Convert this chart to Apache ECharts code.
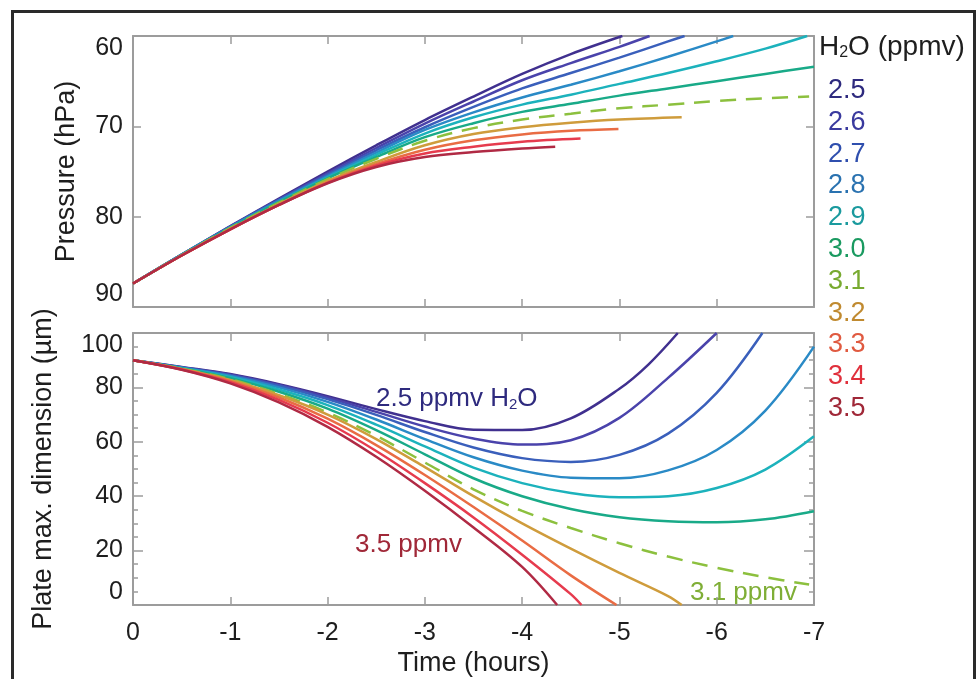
<!DOCTYPE html>
<html>
<head>
<meta charset="utf-8">
<title>Plate growth vs pressure and water vapour</title>
<script src="https://cdn.jsdelivr.net/npm/echarts@6/dist/echarts.min.js"></script>
<style>
  html, body { margin: 0; padding: 0; background: #ffffff; }
  #main { width: 976px; height: 679px; }
</style>
</head>
<body>
<div id="main"></div>
<script>
// Water vapour mixing ratios (ppmv), one trajectory each
const H2O_LEVELS = ['2.5', '2.6', '2.7', '2.8', '2.9', '3.0', '3.1', '3.2', '3.3', '3.4', '3.5'];
const LINE_COLORS = ['#40308f', '#4a43ab', '#3a5fbb', '#2a8ac6', '#1cb2bc', '#19aa88', '#8cc03e', '#cf9c3c', '#e96c44', '#e63b4e', '#b02a44'];
const LABEL_COLORS = ['#2e2a7e', '#3a3a9e', '#2f4fae', '#2a72b0', '#1a9a9e', '#1a9a60', '#78aa30', '#c08a30', '#e05a40', '#e0303c', '#a02838'];
const DASHED_LEVEL = '3.1';

// Axis ticks
const X_TICK_LABELS = ['0', '-1', '-2', '-3', '-4', '-5', '-6', '-7'];
const PRESSURE_TICKS = [60, 70, 80, 90];
const SIZE_TICKS = [0, 20, 40, 60, 80, 100];

// Pressure (hPa) along each trajectory: [time (h), pressure]
const PRESSURE_2_5 = [[0, 87.4], [-0.5, 84.2], [-1, 81.05], [-1.5, 78.0], [-2, 75.0], [-2.5, 72.1], [-3, 69.3], [-3.5, 66.7], [-4, 64.2], [-4.5, 62.0], [-5.03, 60.0]];
const PRESSURE_2_6 = [[0, 87.4], [-0.5, 84.2], [-1, 81.1], [-1.5, 78.1], [-2, 75.2], [-2.5, 72.4], [-3, 69.7], [-3.5, 67.25], [-4, 64.9], [-4.5, 63.0], [-5, 61.2], [-5.31, 60.0]];
const PRESSURE_2_7 = [[0, 87.4], [-0.5, 84.2], [-1, 81.1], [-1.5, 78.15], [-2, 75.35], [-2.5, 72.65], [-3, 70.1], [-3.5, 67.85], [-4, 65.8], [-4.5, 64.1], [-5, 62.4], [-5.5, 60.6], [-5.67, 60.0]];
const PRESSURE_2_8 = [[0, 87.4], [-0.5, 84.2], [-1, 81.15], [-1.5, 78.25], [-2, 75.5], [-2.5, 72.9], [-3, 70.4], [-3.5, 68.45], [-4, 66.8], [-4.5, 65.4], [-5, 63.9], [-5.5, 62.3], [-6, 60.6], [-6.17, 60.0]];
const PRESSURE_2_9 = [[0, 87.4], [-0.5, 84.25], [-1, 81.25], [-1.5, 78.35], [-2, 75.65], [-2.5, 73.15], [-3, 70.8], [-3.5, 69.0], [-4, 67.6], [-4.5, 66.5], [-5, 65.3], [-5.5, 64.1], [-6, 62.8], [-6.5, 61.4], [-6.93, 60.0]];
const PRESSURE_3_0 = [[0, 87.4], [-0.5, 84.25], [-1, 81.25], [-1.5, 78.4], [-2, 75.75], [-2.5, 73.4], [-3, 71.2], [-3.5, 69.65], [-4, 68.4], [-4.5, 67.5], [-5, 66.6], [-5.5, 65.8], [-6, 65.0], [-6.5, 64.2], [-7, 63.4]];
const PRESSURE_3_1 = [[0, 87.4], [-0.5, 84.25], [-1, 81.25], [-1.5, 78.45], [-2, 75.85], [-2.5, 73.6], [-3, 71.6], [-3.5, 70.2], [-4, 69.25], [-4.5, 68.6], [-5, 68.0], [-5.5, 67.6], [-6, 67.2], [-6.5, 66.9], [-6.95, 66.7]];
const PRESSURE_3_2 = [[0, 87.4], [-0.5, 84.3], [-1, 81.35], [-1.5, 78.6], [-2, 76.05], [-2.5, 73.95], [-3, 72.1], [-3.5, 70.85], [-4, 70.1], [-4.5, 69.6], [-5, 69.25], [-5.64, 69.0]];
const PRESSURE_3_3 = [[0, 87.4], [-0.5, 84.3], [-1, 81.4], [-1.5, 78.7], [-2, 76.2], [-2.5, 74.2], [-3, 72.6], [-3.5, 71.55], [-4, 70.9], [-4.5, 70.5], [-4.99, 70.3]];
const PRESSURE_3_4 = [[0, 87.4], [-0.5, 84.3], [-1, 81.4], [-1.5, 78.7], [-2, 76.25], [-2.5, 74.35], [-3, 73.0], [-3.5, 72.25], [-4, 71.7], [-4.6, 71.35]];
const PRESSURE_3_5 = [[0, 87.4], [-0.5, 84.3], [-1, 81.4], [-1.5, 78.7], [-2, 76.3], [-2.5, 74.5], [-3, 73.4], [-3.5, 72.85], [-4, 72.45], [-4.34, 72.25]];

// Plate maximum dimension (µm) along each trajectory: [time (h), size]
const SIZE_2_5 = [[0, 90], [-0.5, 87.5], [-1, 84.9], [-1.5, 81.2], [-2, 76.8], [-2.5, 72.0], [-3, 67.6], [-3.5, 64.4], [-4, 64.3], [-4.5, 68.6], [-5, 79.5], [-5.3, 88.5], [-5.6, 100]];
const SIZE_2_6 = [[0, 90], [-0.5, 87.4], [-1, 84.7], [-1.5, 80.9], [-2, 76.3], [-2.5, 71.0], [-3, 65.6], [-3.5, 61.2], [-4, 59.0], [-4.5, 60.6], [-5, 68.8], [-5.5, 83.5], [-6, 100]];
const SIZE_2_7 = [[0, 90], [-0.5, 87.3], [-1, 84.5], [-1.5, 80.6], [-2, 75.7], [-2.5, 69.9], [-3, 63.6], [-3.5, 57.9], [-4, 54.0], [-4.5, 52.6], [-5, 55.2], [-5.5, 63.0], [-6, 78.0], [-6.47, 100]];
const SIZE_2_8 = [[0, 90], [-0.5, 87.2], [-1, 84.2], [-1.5, 80.0], [-2, 74.7], [-2.5, 68.2], [-3, 61.0], [-3.5, 54.3], [-4, 49.4], [-4.5, 46.8], [-5, 46.6], [-5.5, 49.5], [-6, 57.0], [-6.5, 71.5], [-7, 95.0]];
const SIZE_2_9 = [[0, 90], [-0.5, 87.1], [-1, 83.8], [-1.5, 79.2], [-2, 73.5], [-2.5, 66.3], [-3, 58.3], [-3.5, 50.5], [-4, 44.8], [-4.5, 41.2], [-5, 39.6], [-5.5, 40.0], [-6, 43.0], [-6.5, 49.8], [-7, 62.0]];
const SIZE_3_0 = [[0, 90], [-0.5, 87.0], [-1, 83.4], [-1.5, 78.4], [-2, 72.2], [-2.5, 64.3], [-3, 55.4], [-3.5, 46.6], [-4, 40.0], [-4.5, 35.3], [-5, 32.3], [-5.5, 30.8], [-6, 30.4], [-6.5, 31.5], [-7, 34.5]];
const SIZE_3_1 = [[0, 90], [-0.5, 86.9], [-1, 83.0], [-1.5, 77.6], [-2, 70.8], [-2.5, 62.2], [-3, 52.4], [-3.5, 42.5], [-4, 34.6], [-4.5, 28.3], [-5, 22.7], [-5.5, 17.8], [-6, 13.7], [-6.5, 10.2], [-6.95, 7.5]];
const SIZE_3_2 = [[0, 90], [-0.5, 86.8], [-1, 82.7], [-1.5, 77.1], [-2, 70.0], [-2.5, 61.0], [-3, 50.7], [-3.5, 40.0], [-4, 30.0], [-4.5, 20.7], [-5, 11.8], [-5.5, 3.3], [-5.64, 0]];
const SIZE_3_3 = [[0, 90], [-0.5, 86.7], [-1, 82.3], [-1.5, 76.3], [-2, 68.5], [-2.5, 58.8], [-3, 47.8], [-3.5, 36.0], [-4, 23.7], [-4.5, 10.9], [-4.97, 0]];
const SIZE_3_4 = [[0, 90], [-0.5, 86.6], [-1, 81.9], [-1.5, 75.4], [-2, 67.0], [-2.5, 56.6], [-3, 44.8], [-3.5, 32.2], [-4, 18.5], [-4.5, 4.0], [-4.61, 0]];
const SIZE_3_5 = [[0, 90], [-0.5, 86.5], [-1, 81.5], [-1.5, 74.5], [-2, 65.5], [-2.5, 54.5], [-3, 42.0], [-3.5, 28.5], [-4, 14.0], [-4.36, 0]];

const PRESSURE_TRACKS = [PRESSURE_2_5, PRESSURE_2_6, PRESSURE_2_7, PRESSURE_2_8, PRESSURE_2_9, PRESSURE_3_0,
  PRESSURE_3_1, PRESSURE_3_2, PRESSURE_3_3, PRESSURE_3_4, PRESSURE_3_5];
const SIZE_TRACKS = [SIZE_2_5, SIZE_2_6, SIZE_2_7, SIZE_2_8, SIZE_2_9, SIZE_3_0,
  SIZE_3_1, SIZE_3_2, SIZE_3_3, SIZE_3_4, SIZE_3_5];

const FONT = '"Liberation Sans", Arial, Helvetica, sans-serif';
const TEXT_COLOR = '#1e1e1e';
const FRAME_COLOR = '#9c9c9c';

const chart = echarts.init(document.getElementById('main'), null, { renderer: 'canvas' });

function frameAxis(gridIndex, position, extra) {
  return Object.assign({
    type: 'value',
    gridIndex: gridIndex,
    position: position,
    axisLine: { show: true, onZero: false, lineStyle: { color: FRAME_COLOR, width: 2 } },
    axisTick: { show: true, inside: true, length: 8, lineStyle: { color: FRAME_COLOR, width: 1.5 } },
    axisLabel: { show: false },
    splitLine: { show: false }
  }, extra);
}

const timeAxisCommon = { min: -7, max: 0, interval: 1, inverse: true };
const timeLabel = {
  show: true, fontFamily: FONT, fontSize: 25, color: TEXT_COLOR, margin: 16,
  formatter: function (v) { return X_TICK_LABELS[Math.round(-v)]; }
};

const xAxes = [
  frameAxis(0, 'bottom', timeAxisCommon),
  frameAxis(0, 'top', timeAxisCommon),
  frameAxis(1, 'bottom', Object.assign({}, timeAxisCommon, {
    axisLabel: timeLabel,
    name: 'Time (hours)', nameLocation: 'middle', nameGap: 45,
    nameTextStyle: { fontFamily: FONT, fontSize: 27, color: TEXT_COLOR }
  })),
  frameAxis(1, 'top', timeAxisCommon)
];

const pressureAxis = {
  min: PRESSURE_TICKS[0], max: PRESSURE_TICKS[PRESSURE_TICKS.length - 1],
  interval: PRESSURE_TICKS[1] - PRESSURE_TICKS[0], inverse: true
};
const sizeAxis = {
  min: SIZE_TICKS[0], max: SIZE_TICKS[SIZE_TICKS.length - 1],
  interval: SIZE_TICKS[1] - SIZE_TICKS[0],
  axisTick: { show: true, inside: true, length: 10, lineStyle: { color: FRAME_COLOR, width: 1.5 } },
  minorTick: { show: true, splitNumber: 4, length: 5, lineStyle: { color: FRAME_COLOR, width: 1.5 } }
};

const yAxes = [
  frameAxis(0, 'left', Object.assign({}, pressureAxis, {
    axisLabel: {
      show: true, fontFamily: FONT, fontSize: 25, color: TEXT_COLOR, margin: 10,
      verticalAlignMinLabel: 'top', verticalAlignMaxLabel: 'bottom'
    },
    name: 'Pressure (hPa)', nameLocation: 'middle', nameGap: 53,
    nameTextStyle: { fontFamily: FONT, fontSize: 27, color: TEXT_COLOR }
  })),
  frameAxis(0, 'right', pressureAxis),
  frameAxis(1, 'left', Object.assign({}, sizeAxis, {
    axisLabel: {
      show: true, fontFamily: FONT, fontSize: 25, color: TEXT_COLOR, margin: 10,
      verticalAlignMinLabel: 'bottom', verticalAlignMaxLabel: 'top'
    },
    name: 'Plate max. dimension (µm)', nameLocation: 'middle', nameGap: 76,
    nameTextStyle: { fontFamily: FONT, fontSize: 27, color: TEXT_COLOR }
  })),
  frameAxis(1, 'right', sizeAxis)
];

const series = [];
H2O_LEVELS.forEach(function (level, i) {
  const lineType = level === DASHED_LEVEL ? [16, 10] : 'solid';
  series.push({
    name: level + ' pressure', type: 'line', xAxisIndex: 0, yAxisIndex: 0,
    data: PRESSURE_TRACKS[i], smooth: 0.35, showSymbol: false, clip: true,
    lineStyle: { color: LINE_COLORS[i], width: 2.5, type: lineType }, z: 2 + i
  });
  series.push({
    name: level + ' size', type: 'line', xAxisIndex: 2, yAxisIndex: 2,
    data: SIZE_TRACKS[i], smooth: 0.35, showSymbol: false, clip: true,
    lineStyle: { color: LINE_COLORS[i], width: 2.5, type: lineType }, z: 2 + i
  });
});

// H2O key on the right-hand side
const keyElements = [{
  type: 'text', left: 819, top: 33,
  style: {
    text: '{n|H}{s|2}{n|O (ppmv)}',
    rich: {
      n: { fontFamily: FONT, fontSize: 28, fill: TEXT_COLOR, lineHeight: 34, verticalAlign: 'bottom' },
      s: { fontFamily: FONT, fontSize: 16, fill: TEXT_COLOR, lineHeight: 14, verticalAlign: 'bottom' }
    }
  }
}];
H2O_LEVELS.forEach(function (level, i) {
  keyElements.push({
    type: 'text', left: 828, top: 77 + i * 31.8,
    style: { text: level, fontFamily: FONT, fontSize: 27, fill: LABEL_COLORS[i] }
  });
});

// In-panel curve annotations
const annotations = [
  {
    type: 'text', left: 376, top: 386,
    style: {
      text: '{n|2.5 ppmv H}{s|2}{n|O}',
      rich: {
        n: { fontFamily: FONT, fontSize: 26, fill: LABEL_COLORS[0], lineHeight: 30, verticalAlign: 'bottom' },
        s: { fontFamily: FONT, fontSize: 15, fill: LABEL_COLORS[0], lineHeight: 14, verticalAlign: 'bottom' }
      }
    }
  },
  { type: 'text', left: 355, top: 532, style: { text: '3.5 ppmv', fontFamily: FONT, fontSize: 26, fill: LABEL_COLORS[10] } },
  { type: 'text', left: 690, top: 580, style: { text: '3.1 ppmv', fontFamily: FONT, fontSize: 26, fill: '#7fae36' } }
];

// Outer figure border
const border = {
  type: 'rect', left: 10, top: 9, z: -1,
  shape: { width: 962, height: 690 },
  style: { fill: 'none', stroke: '#2a2a2a', lineWidth: 3 }
};

chart.setOption({
  backgroundColor: '#ffffff',
  animation: false,
  grid: [
    { left: 133, top: 36, width: 681, height: 271 },
    { left: 133, top: 333, width: 681, height: 272 }
  ],
  xAxis: xAxes,
  yAxis: yAxes,
  series: series,
  graphic: [border].concat(keyElements, annotations)
});
</script>
</body>
</html>
